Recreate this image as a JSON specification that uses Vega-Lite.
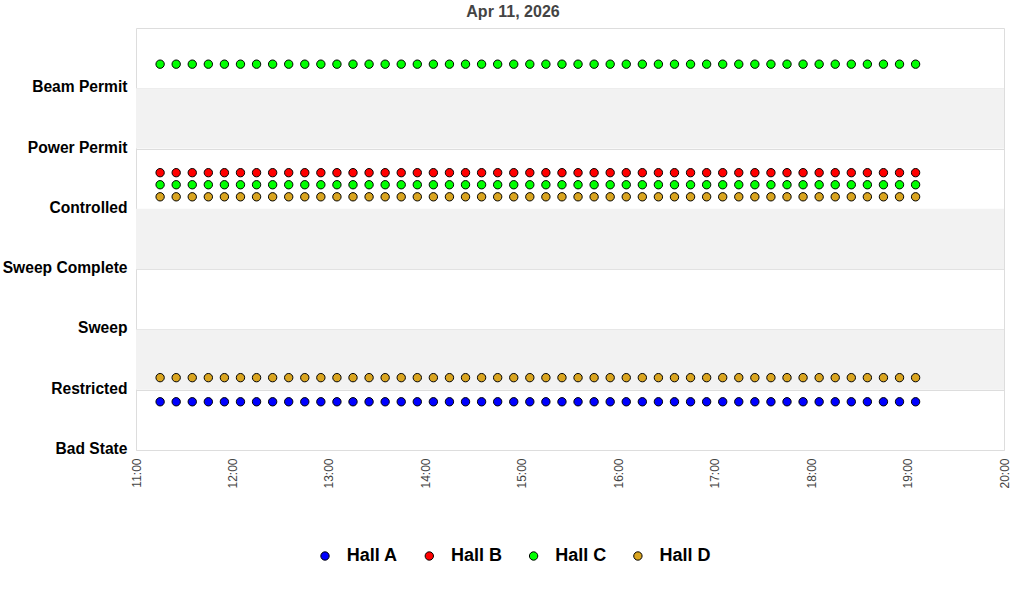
{
"$schema": "https://vega.github.io/schema/vega-lite/v6.json",
"width": 868,
"height": 422,
"autosize": {"type": "none"},
"padding": {"left": 136, "top": 28, "right": 20, "bottom": 150},
"background": "white",
"title": {"text": "Apr 11, 2026", "font": "Liberation Sans", "fontSize": 16, "fontWeight": "bold", "color": "#444444", "anchor": "middle", "offset": 8, "dx": -57},
"config": {"view": {"stroke": "#dddddd", "strokeWidth": 1}},
"layer": [
{
"data": {"values": [{"y": 1, "y2": 2}, {"y": 3, "y2": 4}, {"y": 5, "y2": 6}]},
"mark": {"type": "rect", "color": "#f2f2f2"},
"encoding": {
"y": {"field": "y", "type": "quantitative", "scale": {"domain": [0, 7], "nice": false, "zero": false},
"axis": {"title": null, "values": [0, 1, 2, 3, 4, 5, 6], "labelExpr": "['Bad State','Restricted','Sweep','Sweep Complete','Controlled','Power Permit','Beam Permit'][datum.value]", "labelFont": "Liberation Sans", "labelFontSize": 15.6, "labelFontWeight": "bold", "labelColor": "#000000", "ticks": false, "domain": false, "labelPadding": 9, "labelOffset": -1.5, "labelFlush": false, "labelOverlap": false, "gridColor": "#dddddd", "gridOpacity": 1}},
"y2": {"field": "y2"}
}
},
{
"data": {"values": [
{"t":"2026-04-11T11:15","h":"Hall A","v":0.8},{"t":"2026-04-11T11:25","h":"Hall A","v":0.8},{"t":"2026-04-11T11:35","h":"Hall A","v":0.8},{"t":"2026-04-11T11:45","h":"Hall A","v":0.8},{"t":"2026-04-11T11:55","h":"Hall A","v":0.8},
{"t":"2026-04-11T12:05","h":"Hall A","v":0.8},{"t":"2026-04-11T12:15","h":"Hall A","v":0.8},{"t":"2026-04-11T12:25","h":"Hall A","v":0.8},{"t":"2026-04-11T12:35","h":"Hall A","v":0.8},{"t":"2026-04-11T12:45","h":"Hall A","v":0.8},{"t":"2026-04-11T12:55","h":"Hall A","v":0.8},
{"t":"2026-04-11T13:05","h":"Hall A","v":0.8},{"t":"2026-04-11T13:15","h":"Hall A","v":0.8},{"t":"2026-04-11T13:25","h":"Hall A","v":0.8},{"t":"2026-04-11T13:35","h":"Hall A","v":0.8},{"t":"2026-04-11T13:45","h":"Hall A","v":0.8},{"t":"2026-04-11T13:55","h":"Hall A","v":0.8},
{"t":"2026-04-11T14:05","h":"Hall A","v":0.8},{"t":"2026-04-11T14:15","h":"Hall A","v":0.8},{"t":"2026-04-11T14:25","h":"Hall A","v":0.8},{"t":"2026-04-11T14:35","h":"Hall A","v":0.8},{"t":"2026-04-11T14:45","h":"Hall A","v":0.8},{"t":"2026-04-11T14:55","h":"Hall A","v":0.8},
{"t":"2026-04-11T15:05","h":"Hall A","v":0.8},{"t":"2026-04-11T15:15","h":"Hall A","v":0.8},{"t":"2026-04-11T15:25","h":"Hall A","v":0.8},{"t":"2026-04-11T15:35","h":"Hall A","v":0.8},{"t":"2026-04-11T15:45","h":"Hall A","v":0.8},{"t":"2026-04-11T15:55","h":"Hall A","v":0.8},
{"t":"2026-04-11T16:05","h":"Hall A","v":0.8},{"t":"2026-04-11T16:15","h":"Hall A","v":0.8},{"t":"2026-04-11T16:25","h":"Hall A","v":0.8},{"t":"2026-04-11T16:35","h":"Hall A","v":0.8},{"t":"2026-04-11T16:45","h":"Hall A","v":0.8},{"t":"2026-04-11T16:55","h":"Hall A","v":0.8},
{"t":"2026-04-11T17:05","h":"Hall A","v":0.8},{"t":"2026-04-11T17:15","h":"Hall A","v":0.8},{"t":"2026-04-11T17:25","h":"Hall A","v":0.8},{"t":"2026-04-11T17:35","h":"Hall A","v":0.8},{"t":"2026-04-11T17:45","h":"Hall A","v":0.8},{"t":"2026-04-11T17:55","h":"Hall A","v":0.8},
{"t":"2026-04-11T18:05","h":"Hall A","v":0.8},{"t":"2026-04-11T18:15","h":"Hall A","v":0.8},{"t":"2026-04-11T18:25","h":"Hall A","v":0.8},{"t":"2026-04-11T18:35","h":"Hall A","v":0.8},{"t":"2026-04-11T18:45","h":"Hall A","v":0.8},{"t":"2026-04-11T18:55","h":"Hall A","v":0.8},
{"t":"2026-04-11T19:05","h":"Hall A","v":0.8},
{"t":"2026-04-11T11:15","h":"Hall B","v":4.6},{"t":"2026-04-11T11:25","h":"Hall B","v":4.6},{"t":"2026-04-11T11:35","h":"Hall B","v":4.6},{"t":"2026-04-11T11:45","h":"Hall B","v":4.6},{"t":"2026-04-11T11:55","h":"Hall B","v":4.6},
{"t":"2026-04-11T12:05","h":"Hall B","v":4.6},{"t":"2026-04-11T12:15","h":"Hall B","v":4.6},{"t":"2026-04-11T12:25","h":"Hall B","v":4.6},{"t":"2026-04-11T12:35","h":"Hall B","v":4.6},{"t":"2026-04-11T12:45","h":"Hall B","v":4.6},{"t":"2026-04-11T12:55","h":"Hall B","v":4.6},
{"t":"2026-04-11T13:05","h":"Hall B","v":4.6},{"t":"2026-04-11T13:15","h":"Hall B","v":4.6},{"t":"2026-04-11T13:25","h":"Hall B","v":4.6},{"t":"2026-04-11T13:35","h":"Hall B","v":4.6},{"t":"2026-04-11T13:45","h":"Hall B","v":4.6},{"t":"2026-04-11T13:55","h":"Hall B","v":4.6},
{"t":"2026-04-11T14:05","h":"Hall B","v":4.6},{"t":"2026-04-11T14:15","h":"Hall B","v":4.6},{"t":"2026-04-11T14:25","h":"Hall B","v":4.6},{"t":"2026-04-11T14:35","h":"Hall B","v":4.6},{"t":"2026-04-11T14:45","h":"Hall B","v":4.6},{"t":"2026-04-11T14:55","h":"Hall B","v":4.6},
{"t":"2026-04-11T15:05","h":"Hall B","v":4.6},{"t":"2026-04-11T15:15","h":"Hall B","v":4.6},{"t":"2026-04-11T15:25","h":"Hall B","v":4.6},{"t":"2026-04-11T15:35","h":"Hall B","v":4.6},{"t":"2026-04-11T15:45","h":"Hall B","v":4.6},{"t":"2026-04-11T15:55","h":"Hall B","v":4.6},
{"t":"2026-04-11T16:05","h":"Hall B","v":4.6},{"t":"2026-04-11T16:15","h":"Hall B","v":4.6},{"t":"2026-04-11T16:25","h":"Hall B","v":4.6},{"t":"2026-04-11T16:35","h":"Hall B","v":4.6},{"t":"2026-04-11T16:45","h":"Hall B","v":4.6},{"t":"2026-04-11T16:55","h":"Hall B","v":4.6},
{"t":"2026-04-11T17:05","h":"Hall B","v":4.6},{"t":"2026-04-11T17:15","h":"Hall B","v":4.6},{"t":"2026-04-11T17:25","h":"Hall B","v":4.6},{"t":"2026-04-11T17:35","h":"Hall B","v":4.6},{"t":"2026-04-11T17:45","h":"Hall B","v":4.6},{"t":"2026-04-11T17:55","h":"Hall B","v":4.6},
{"t":"2026-04-11T18:05","h":"Hall B","v":4.6},{"t":"2026-04-11T18:15","h":"Hall B","v":4.6},{"t":"2026-04-11T18:25","h":"Hall B","v":4.6},{"t":"2026-04-11T18:35","h":"Hall B","v":4.6},{"t":"2026-04-11T18:45","h":"Hall B","v":4.6},{"t":"2026-04-11T18:55","h":"Hall B","v":4.6},
{"t":"2026-04-11T19:05","h":"Hall B","v":4.6},
{"t":"2026-04-11T11:15","h":"Hall C","v":4.4},{"t":"2026-04-11T11:25","h":"Hall C","v":4.4},{"t":"2026-04-11T11:35","h":"Hall C","v":4.4},{"t":"2026-04-11T11:45","h":"Hall C","v":4.4},{"t":"2026-04-11T11:55","h":"Hall C","v":4.4},
{"t":"2026-04-11T12:05","h":"Hall C","v":4.4},{"t":"2026-04-11T12:15","h":"Hall C","v":4.4},{"t":"2026-04-11T12:25","h":"Hall C","v":4.4},{"t":"2026-04-11T12:35","h":"Hall C","v":4.4},{"t":"2026-04-11T12:45","h":"Hall C","v":4.4},{"t":"2026-04-11T12:55","h":"Hall C","v":4.4},
{"t":"2026-04-11T13:05","h":"Hall C","v":4.4},{"t":"2026-04-11T13:15","h":"Hall C","v":4.4},{"t":"2026-04-11T13:25","h":"Hall C","v":4.4},{"t":"2026-04-11T13:35","h":"Hall C","v":4.4},{"t":"2026-04-11T13:45","h":"Hall C","v":4.4},{"t":"2026-04-11T13:55","h":"Hall C","v":4.4},
{"t":"2026-04-11T14:05","h":"Hall C","v":4.4},{"t":"2026-04-11T14:15","h":"Hall C","v":4.4},{"t":"2026-04-11T14:25","h":"Hall C","v":4.4},{"t":"2026-04-11T14:35","h":"Hall C","v":4.4},{"t":"2026-04-11T14:45","h":"Hall C","v":4.4},{"t":"2026-04-11T14:55","h":"Hall C","v":4.4},
{"t":"2026-04-11T15:05","h":"Hall C","v":4.4},{"t":"2026-04-11T15:15","h":"Hall C","v":4.4},{"t":"2026-04-11T15:25","h":"Hall C","v":4.4},{"t":"2026-04-11T15:35","h":"Hall C","v":4.4},{"t":"2026-04-11T15:45","h":"Hall C","v":4.4},{"t":"2026-04-11T15:55","h":"Hall C","v":4.4},
{"t":"2026-04-11T16:05","h":"Hall C","v":4.4},{"t":"2026-04-11T16:15","h":"Hall C","v":4.4},{"t":"2026-04-11T16:25","h":"Hall C","v":4.4},{"t":"2026-04-11T16:35","h":"Hall C","v":4.4},{"t":"2026-04-11T16:45","h":"Hall C","v":4.4},{"t":"2026-04-11T16:55","h":"Hall C","v":4.4},
{"t":"2026-04-11T17:05","h":"Hall C","v":4.4},{"t":"2026-04-11T17:15","h":"Hall C","v":4.4},{"t":"2026-04-11T17:25","h":"Hall C","v":4.4},{"t":"2026-04-11T17:35","h":"Hall C","v":4.4},{"t":"2026-04-11T17:45","h":"Hall C","v":4.4},{"t":"2026-04-11T17:55","h":"Hall C","v":4.4},
{"t":"2026-04-11T18:05","h":"Hall C","v":4.4},{"t":"2026-04-11T18:15","h":"Hall C","v":4.4},{"t":"2026-04-11T18:25","h":"Hall C","v":4.4},{"t":"2026-04-11T18:35","h":"Hall C","v":4.4},{"t":"2026-04-11T18:45","h":"Hall C","v":4.4},{"t":"2026-04-11T18:55","h":"Hall C","v":4.4},
{"t":"2026-04-11T19:05","h":"Hall C","v":4.4},
{"t":"2026-04-11T11:15","h":"Hall C","v":6.4},{"t":"2026-04-11T11:25","h":"Hall C","v":6.4},{"t":"2026-04-11T11:35","h":"Hall C","v":6.4},{"t":"2026-04-11T11:45","h":"Hall C","v":6.4},{"t":"2026-04-11T11:55","h":"Hall C","v":6.4},
{"t":"2026-04-11T12:05","h":"Hall C","v":6.4},{"t":"2026-04-11T12:15","h":"Hall C","v":6.4},{"t":"2026-04-11T12:25","h":"Hall C","v":6.4},{"t":"2026-04-11T12:35","h":"Hall C","v":6.4},{"t":"2026-04-11T12:45","h":"Hall C","v":6.4},{"t":"2026-04-11T12:55","h":"Hall C","v":6.4},
{"t":"2026-04-11T13:05","h":"Hall C","v":6.4},{"t":"2026-04-11T13:15","h":"Hall C","v":6.4},{"t":"2026-04-11T13:25","h":"Hall C","v":6.4},{"t":"2026-04-11T13:35","h":"Hall C","v":6.4},{"t":"2026-04-11T13:45","h":"Hall C","v":6.4},{"t":"2026-04-11T13:55","h":"Hall C","v":6.4},
{"t":"2026-04-11T14:05","h":"Hall C","v":6.4},{"t":"2026-04-11T14:15","h":"Hall C","v":6.4},{"t":"2026-04-11T14:25","h":"Hall C","v":6.4},{"t":"2026-04-11T14:35","h":"Hall C","v":6.4},{"t":"2026-04-11T14:45","h":"Hall C","v":6.4},{"t":"2026-04-11T14:55","h":"Hall C","v":6.4},
{"t":"2026-04-11T15:05","h":"Hall C","v":6.4},{"t":"2026-04-11T15:15","h":"Hall C","v":6.4},{"t":"2026-04-11T15:25","h":"Hall C","v":6.4},{"t":"2026-04-11T15:35","h":"Hall C","v":6.4},{"t":"2026-04-11T15:45","h":"Hall C","v":6.4},{"t":"2026-04-11T15:55","h":"Hall C","v":6.4},
{"t":"2026-04-11T16:05","h":"Hall C","v":6.4},{"t":"2026-04-11T16:15","h":"Hall C","v":6.4},{"t":"2026-04-11T16:25","h":"Hall C","v":6.4},{"t":"2026-04-11T16:35","h":"Hall C","v":6.4},{"t":"2026-04-11T16:45","h":"Hall C","v":6.4},{"t":"2026-04-11T16:55","h":"Hall C","v":6.4},
{"t":"2026-04-11T17:05","h":"Hall C","v":6.4},{"t":"2026-04-11T17:15","h":"Hall C","v":6.4},{"t":"2026-04-11T17:25","h":"Hall C","v":6.4},{"t":"2026-04-11T17:35","h":"Hall C","v":6.4},{"t":"2026-04-11T17:45","h":"Hall C","v":6.4},{"t":"2026-04-11T17:55","h":"Hall C","v":6.4},
{"t":"2026-04-11T18:05","h":"Hall C","v":6.4},{"t":"2026-04-11T18:15","h":"Hall C","v":6.4},{"t":"2026-04-11T18:25","h":"Hall C","v":6.4},{"t":"2026-04-11T18:35","h":"Hall C","v":6.4},{"t":"2026-04-11T18:45","h":"Hall C","v":6.4},{"t":"2026-04-11T18:55","h":"Hall C","v":6.4},
{"t":"2026-04-11T19:05","h":"Hall C","v":6.4},
{"t":"2026-04-11T11:15","h":"Hall D","v":4.2},{"t":"2026-04-11T11:25","h":"Hall D","v":4.2},{"t":"2026-04-11T11:35","h":"Hall D","v":4.2},{"t":"2026-04-11T11:45","h":"Hall D","v":4.2},{"t":"2026-04-11T11:55","h":"Hall D","v":4.2},
{"t":"2026-04-11T12:05","h":"Hall D","v":4.2},{"t":"2026-04-11T12:15","h":"Hall D","v":4.2},{"t":"2026-04-11T12:25","h":"Hall D","v":4.2},{"t":"2026-04-11T12:35","h":"Hall D","v":4.2},{"t":"2026-04-11T12:45","h":"Hall D","v":4.2},{"t":"2026-04-11T12:55","h":"Hall D","v":4.2},
{"t":"2026-04-11T13:05","h":"Hall D","v":4.2},{"t":"2026-04-11T13:15","h":"Hall D","v":4.2},{"t":"2026-04-11T13:25","h":"Hall D","v":4.2},{"t":"2026-04-11T13:35","h":"Hall D","v":4.2},{"t":"2026-04-11T13:45","h":"Hall D","v":4.2},{"t":"2026-04-11T13:55","h":"Hall D","v":4.2},
{"t":"2026-04-11T14:05","h":"Hall D","v":4.2},{"t":"2026-04-11T14:15","h":"Hall D","v":4.2},{"t":"2026-04-11T14:25","h":"Hall D","v":4.2},{"t":"2026-04-11T14:35","h":"Hall D","v":4.2},{"t":"2026-04-11T14:45","h":"Hall D","v":4.2},{"t":"2026-04-11T14:55","h":"Hall D","v":4.2},
{"t":"2026-04-11T15:05","h":"Hall D","v":4.2},{"t":"2026-04-11T15:15","h":"Hall D","v":4.2},{"t":"2026-04-11T15:25","h":"Hall D","v":4.2},{"t":"2026-04-11T15:35","h":"Hall D","v":4.2},{"t":"2026-04-11T15:45","h":"Hall D","v":4.2},{"t":"2026-04-11T15:55","h":"Hall D","v":4.2},
{"t":"2026-04-11T16:05","h":"Hall D","v":4.2},{"t":"2026-04-11T16:15","h":"Hall D","v":4.2},{"t":"2026-04-11T16:25","h":"Hall D","v":4.2},{"t":"2026-04-11T16:35","h":"Hall D","v":4.2},{"t":"2026-04-11T16:45","h":"Hall D","v":4.2},{"t":"2026-04-11T16:55","h":"Hall D","v":4.2},
{"t":"2026-04-11T17:05","h":"Hall D","v":4.2},{"t":"2026-04-11T17:15","h":"Hall D","v":4.2},{"t":"2026-04-11T17:25","h":"Hall D","v":4.2},{"t":"2026-04-11T17:35","h":"Hall D","v":4.2},{"t":"2026-04-11T17:45","h":"Hall D","v":4.2},{"t":"2026-04-11T17:55","h":"Hall D","v":4.2},
{"t":"2026-04-11T18:05","h":"Hall D","v":4.2},{"t":"2026-04-11T18:15","h":"Hall D","v":4.2},{"t":"2026-04-11T18:25","h":"Hall D","v":4.2},{"t":"2026-04-11T18:35","h":"Hall D","v":4.2},{"t":"2026-04-11T18:45","h":"Hall D","v":4.2},{"t":"2026-04-11T18:55","h":"Hall D","v":4.2},
{"t":"2026-04-11T19:05","h":"Hall D","v":4.2},
{"t":"2026-04-11T11:15","h":"Hall D","v":1.2},{"t":"2026-04-11T11:25","h":"Hall D","v":1.2},{"t":"2026-04-11T11:35","h":"Hall D","v":1.2},{"t":"2026-04-11T11:45","h":"Hall D","v":1.2},{"t":"2026-04-11T11:55","h":"Hall D","v":1.2},
{"t":"2026-04-11T12:05","h":"Hall D","v":1.2},{"t":"2026-04-11T12:15","h":"Hall D","v":1.2},{"t":"2026-04-11T12:25","h":"Hall D","v":1.2},{"t":"2026-04-11T12:35","h":"Hall D","v":1.2},{"t":"2026-04-11T12:45","h":"Hall D","v":1.2},{"t":"2026-04-11T12:55","h":"Hall D","v":1.2},
{"t":"2026-04-11T13:05","h":"Hall D","v":1.2},{"t":"2026-04-11T13:15","h":"Hall D","v":1.2},{"t":"2026-04-11T13:25","h":"Hall D","v":1.2},{"t":"2026-04-11T13:35","h":"Hall D","v":1.2},{"t":"2026-04-11T13:45","h":"Hall D","v":1.2},{"t":"2026-04-11T13:55","h":"Hall D","v":1.2},
{"t":"2026-04-11T14:05","h":"Hall D","v":1.2},{"t":"2026-04-11T14:15","h":"Hall D","v":1.2},{"t":"2026-04-11T14:25","h":"Hall D","v":1.2},{"t":"2026-04-11T14:35","h":"Hall D","v":1.2},{"t":"2026-04-11T14:45","h":"Hall D","v":1.2},{"t":"2026-04-11T14:55","h":"Hall D","v":1.2},
{"t":"2026-04-11T15:05","h":"Hall D","v":1.2},{"t":"2026-04-11T15:15","h":"Hall D","v":1.2},{"t":"2026-04-11T15:25","h":"Hall D","v":1.2},{"t":"2026-04-11T15:35","h":"Hall D","v":1.2},{"t":"2026-04-11T15:45","h":"Hall D","v":1.2},{"t":"2026-04-11T15:55","h":"Hall D","v":1.2},
{"t":"2026-04-11T16:05","h":"Hall D","v":1.2},{"t":"2026-04-11T16:15","h":"Hall D","v":1.2},{"t":"2026-04-11T16:25","h":"Hall D","v":1.2},{"t":"2026-04-11T16:35","h":"Hall D","v":1.2},{"t":"2026-04-11T16:45","h":"Hall D","v":1.2},{"t":"2026-04-11T16:55","h":"Hall D","v":1.2},
{"t":"2026-04-11T17:05","h":"Hall D","v":1.2},{"t":"2026-04-11T17:15","h":"Hall D","v":1.2},{"t":"2026-04-11T17:25","h":"Hall D","v":1.2},{"t":"2026-04-11T17:35","h":"Hall D","v":1.2},{"t":"2026-04-11T17:45","h":"Hall D","v":1.2},{"t":"2026-04-11T17:55","h":"Hall D","v":1.2},
{"t":"2026-04-11T18:05","h":"Hall D","v":1.2},{"t":"2026-04-11T18:15","h":"Hall D","v":1.2},{"t":"2026-04-11T18:25","h":"Hall D","v":1.2},{"t":"2026-04-11T18:35","h":"Hall D","v":1.2},{"t":"2026-04-11T18:45","h":"Hall D","v":1.2},{"t":"2026-04-11T18:55","h":"Hall D","v":1.2},
{"t":"2026-04-11T19:05","h":"Hall D","v":1.2}
]},
"mark": {"type": "circle", "size": 70, "stroke": "#000000", "strokeWidth": 1, "opacity": 1},
"encoding": {
"x": {"field": "t", "type": "temporal",
"scale": {"domain": [{"year": 2026, "month": 4, "date": 11, "hours": 11, "minutes": 0}, {"year": 2026, "month": 4, "date": 11, "hours": 20, "minutes": 0}]},
"axis": {"title": null, "format": "%H:%M", "tickCount": 9, "labelAngle": -90, "labelFont": "Liberation Sans", "labelFontSize": 12, "labelColor": "#444444", "ticks": false, "domain": false, "grid": false, "labelPadding": 8, "labelFlush": false}},
"y": {"field": "v", "type": "quantitative"},
"fill": {"field": "h", "type": "nominal",
"scale": {"domain": ["Hall A", "Hall B", "Hall C", "Hall D"], "range": ["#0000ff", "#ff0000", "#00ff00", "#daa520"]},
"legend": {"title": null, "orient": "none", "direction": "horizontal", "legendX": 180, "legendY": 519, "labelFont": "Liberation Sans", "labelFontSize": 18, "labelFontWeight": "bold", "labelColor": "#000000", "symbolType": "circle", "symbolSize": 70, "symbolStrokeColor": "#000000", "symbolStrokeWidth": 1, "labelOffset": 12.7, "columnPadding": 22.3}}
}
}
]
}
